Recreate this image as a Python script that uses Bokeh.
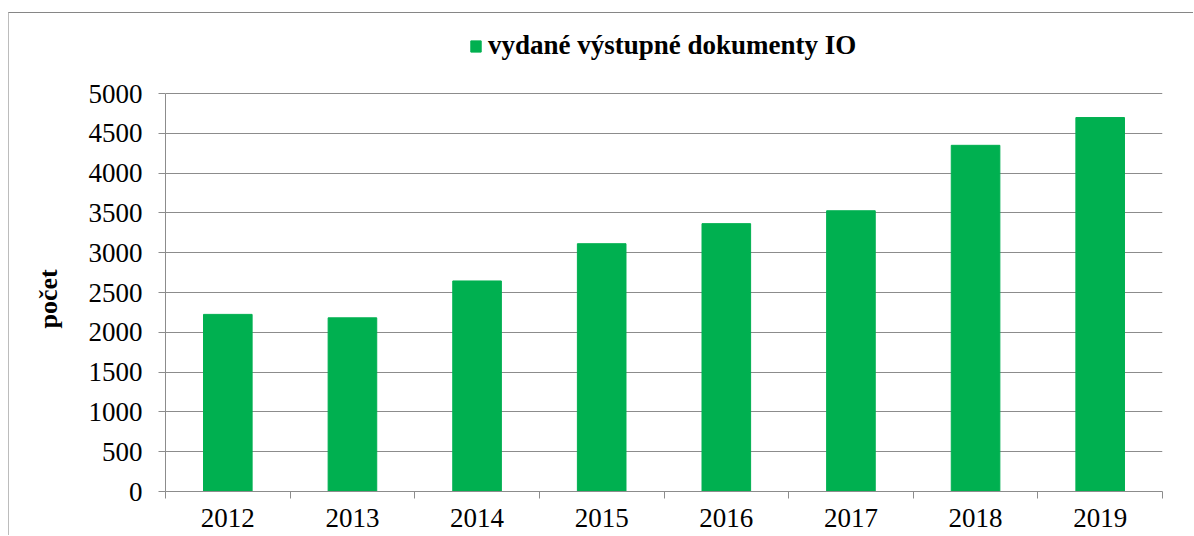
from bokeh.plotting import figure
from bokeh.models import (ColumnDataSource, FixedTicker, Legend, LegendItem, Range1d,
                          Title)
from bokeh.embed import file_html
from bokeh.resources import INLINE

# ---- data ----
years = ["2012", "2013", "2014", "2015", "2016", "2017", "2018", "2019"]
values = [2225, 2182, 2645, 3113, 3365, 3527, 4349, 4698]
y_ticks = [0, 500, 1000, 1500, 2000, 2500, 3000, 3500, 4000, 4500, 5000]
series_name = "vydané výstupné dokumenty IO"
y_title = "počet"

FONT = "Liberation Serif"
GREEN = "#00B050"
GRID = "#8c8c8c"

W, H = 1185, 523
FT, FB, TOP_TICK_PX = 3, 478, 80          # frame top/bottom and y of the top tick (canvas px)
y_max = y_ticks[-1] * (FB - FT) / (FB - TOP_TICK_PX)   # room above the axis for the legend

xpos = [i + 0.5 for i in range(len(years))]
src = ColumnDataSource(dict(x=xpos, top=values, year=years))

p = figure(width=W, height=H, output_backend="svg", toolbar_location=None,
           x_range=Range1d(0, len(years)), y_range=Range1d(0, y_max),
           min_border_left=156, min_border_right=32, min_border_top=FT,
           min_border_bottom=H - FB)
p.styles = {"border-top": "1px solid #868686", "border-left": "1px solid #bcbcbc",
            "margin-top": "12px", "margin-left": "8px"}
p.outline_line_color = None
p.background_fill_color = "white"
p.border_fill_color = "white"

r = p.vbar(x="x", top="top", width=0.39, source=src, fill_color=GREEN,
           line_color=GREEN, line_width=1)

# x axis: labels at centres, ticks at category boundaries
p.xaxis.ticker = FixedTicker(ticks=xpos, minor_ticks=list(range(len(years) + 1)))
p.xaxis.major_label_overrides = {x: y for x, y in zip(xpos, years)}
p.xaxis.major_tick_out = 0
p.xaxis.major_tick_in = 0
p.xaxis.minor_tick_out = 7
p.xaxis.minor_tick_in = 0
p.xaxis.minor_tick_line_color = GRID
p.xaxis.axis_line_color = GRID
p.xaxis.major_label_standoff = 10
p.xaxis.major_label_text_font = FONT
p.xaxis.major_label_text_font_size = "27px"
p.xaxis.major_label_text_color = "black"
p.xgrid.visible = False

# y axis
p.yaxis.ticker = FixedTicker(ticks=y_ticks)
p.yaxis.bounds = (0, y_ticks[-1])
p.yaxis.minor_tick_line_color = None
p.yaxis.major_tick_out = 7
p.yaxis.major_tick_in = 0
p.yaxis.major_tick_line_color = GRID
p.yaxis.axis_line_color = GRID
p.yaxis.major_label_standoff = 16
p.yaxis.major_label_text_font = FONT
p.yaxis.major_label_text_font_size = "27px"
p.yaxis.major_label_text_color = "black"
p.ygrid.grid_line_color = GRID
p.ygrid.grid_line_width = 1

# y-axis title (as a left-side title so it can sit on the 0-5000 span)
p.add_layout(Title(text=y_title, align="left", offset=163, standoff=45,
                   text_font=FONT, text_font_size="26px", text_font_style="bold",
                   text_color="black"), "left")

legend = Legend(items=[LegendItem(label=series_name, renderers=[r])],
                location=(304, 430), orientation="horizontal")
legend.label_text_font = FONT
legend.label_text_font_style = "bold"
legend.label_text_font_size = "27px"
legend.label_text_color = "black"
legend.glyph_width = 13
legend.glyph_height = 14
legend.label_standoff = 6
legend.padding = 0
legend.margin = 0
legend.border_line_color = None
legend.background_fill_alpha = 0
p.add_layout(legend, "center")

open("out.html", "w").write(file_html(p, INLINE))
